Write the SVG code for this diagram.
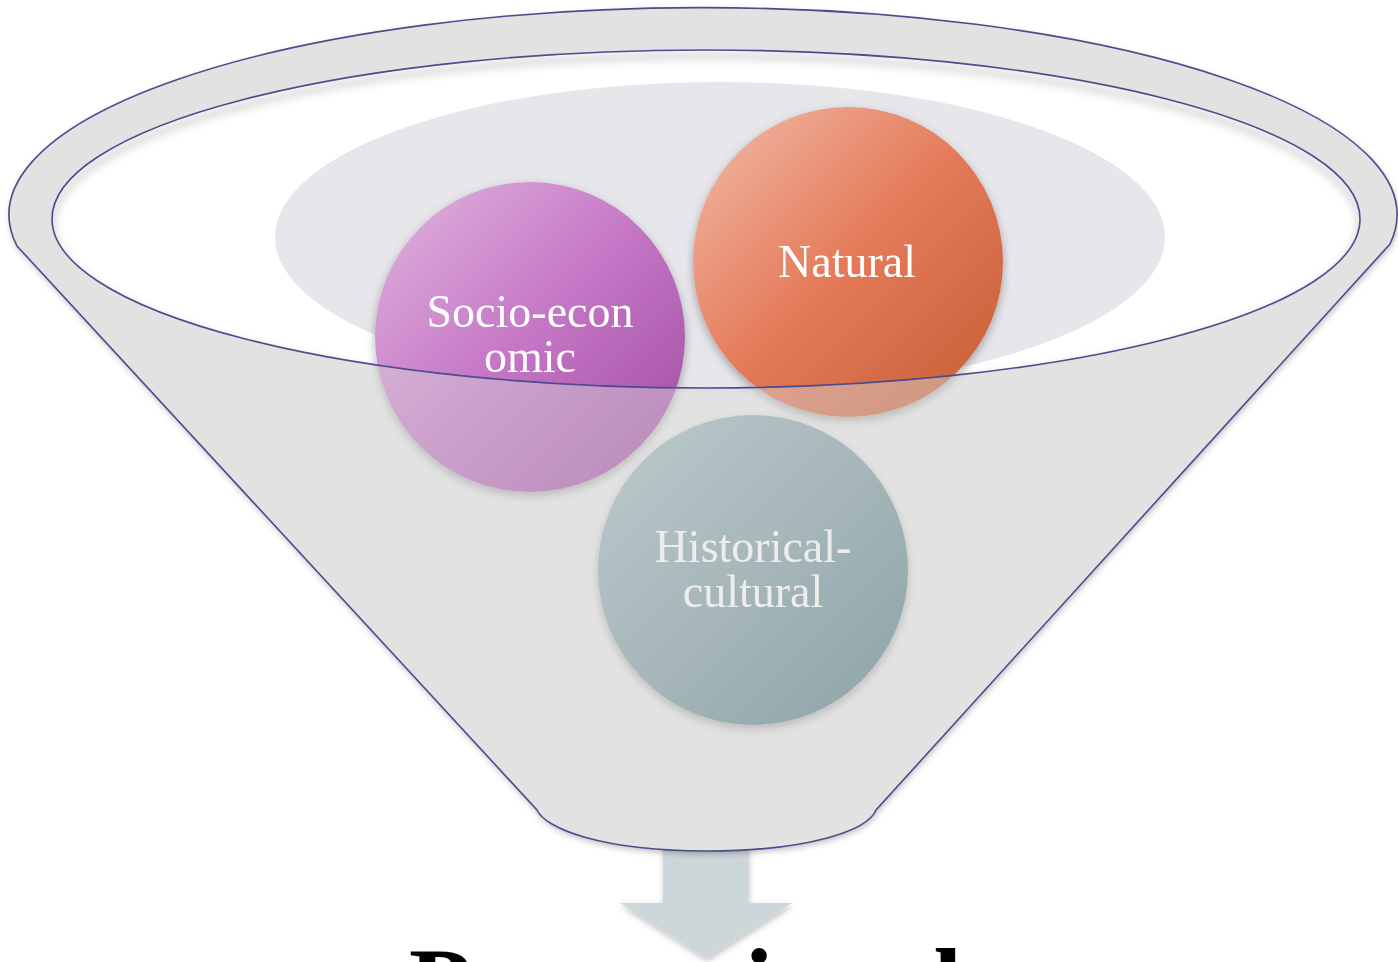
<svg xmlns="http://www.w3.org/2000/svg" width="1398" height="962" viewBox="0 0 1398 962">
  <defs>
    <style>
      .edge { fill: none; stroke: #4a4d8e; stroke-width: 1.6; }
      .lbl { font-family: "Liberation Serif", "Times New Roman", serif; font-size: 46px; fill: #ffffff; text-anchor: middle; }
      .big { font-family: "Liberation Serif", "Times New Roman", serif; font-size: 103px; font-weight: bold; fill: #000000; }
    </style>
    <filter id="sh" x="-10%" y="-10%" width="120%" height="120%">
      <feDropShadow dx="1" dy="3" stdDeviation="3" flood-color="#000" flood-opacity="0.25"/>
    </filter>
    <filter id="csh" x="-20%" y="-20%" width="140%" height="140%">
      <feDropShadow dx="0" dy="4" stdDeviation="5" flood-color="#000" flood-opacity="0.3"/>
    </filter>
    <filter id="blur4"><feGaussianBlur stdDeviation="4"/></filter>
    <linearGradient id="gSocio" x1="0" y1="0" x2="1" y2="1">
      <stop offset="0" stop-color="#e0b6df"/>
      <stop offset="0.5" stop-color="#c575c5"/>
      <stop offset="1" stop-color="#9c4a9f"/>
    </linearGradient>
    <linearGradient id="gNat" x1="0" y1="0" x2="1" y2="1">
      <stop offset="0" stop-color="#f2bcaa"/>
      <stop offset="0.5" stop-color="#e47a58"/>
      <stop offset="1" stop-color="#c45c34"/>
    </linearGradient>
    <linearGradient id="gHist" x1="0" y1="0" x2="1" y2="1">
      <stop offset="0" stop-color="#a6bfc2"/>
      <stop offset="0.5" stop-color="#7f9ca1"/>
      <stop offset="1" stop-color="#4f7a80"/>
    </linearGradient>
    <clipPath id="innerClip">
      <ellipse cx="706" cy="219" rx="654" ry="169"/>
    </clipPath>
  </defs>

  <g id="connectors">
    <path d="M663 846 H748 V903 H792 L706 958 L620 903 H663 Z" fill="#cdd7d9" filter="url(#sh)"/>
  </g>

  <g id="node-funnel-back">
    <path d="M17 246 A694 207 0 1 1 1390 244 L876 810 C868 830 810 851 707 851 C600 851 545 828 537 810 Z" fill="#ececec" filter="url(#sh)"/>
    <ellipse cx="706" cy="219" rx="654" ry="169" fill="#ffffff"/>
    <g clip-path="url(#innerClip)">
      <ellipse cx="706" cy="225" rx="654" ry="169" fill="none" stroke="#000" stroke-opacity="0.18" stroke-width="6" filter="url(#blur4)"/>
    </g>
    <ellipse cx="720" cy="237" rx="445" ry="155" fill="#e6e6eb"/>
  </g>

  <g id="node-socio" filter="url(#csh)">
    <circle cx="530" cy="337" r="155" fill="url(#gSocio)"/>
    <text class="lbl" x="530" y="327">Socio-econ</text>
    <text class="lbl" x="530" y="372">omic</text>
  </g>

  <g id="node-natural" filter="url(#csh)">
    <circle cx="848" cy="262" r="155" fill="url(#gNat)"/>
    <text class="lbl" x="847" y="277">Natural</text>
  </g>

  <g id="node-historical" filter="url(#csh)">
    <circle cx="753" cy="570" r="155" fill="url(#gHist)"/>
    <text class="lbl" x="753" y="562" fill="#f6f6f6">Historical-</text>
    <text class="lbl" x="753" y="607" fill="#f6f6f6">cultural</text>
  </g>

  <g id="node-funnel-front">
    <path fill-rule="evenodd" fill="#d8d8d8" fill-opacity="0.45" d="M17 246 A694 207 0 1 1 1390 244 L876 810 C868 830 810 851 707 851 C600 851 545 828 537 810 Z M52 219 A654 169 0 1 0 1360 219 A654 169 0 1 0 52 219 Z"/>
    <path class="edge" d="M17 246 A694 207 0 1 1 1390 244 L876 810 C868 830 810 851 707 851 C600 851 545 828 537 810 Z"/>
    <ellipse class="edge" cx="706" cy="219" rx="654" ry="169"/>
  </g>

  <g id="node-label">
    <text class="big" x="409" y="1020">Perceptional</text>
  </g>
</svg>
